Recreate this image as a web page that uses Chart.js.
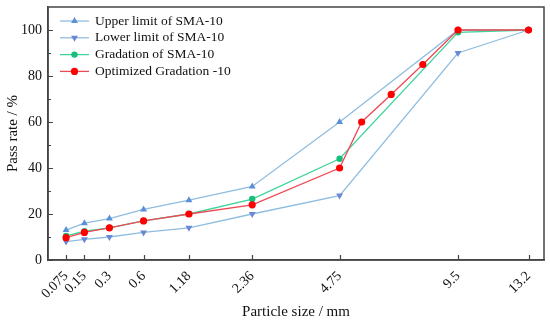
<!DOCTYPE html>
<html lang="en">
<head>
    <meta charset="UTF-8">
    <title>Gradation curves SMA-10</title>
    <script src="https://cdn.jsdelivr.net/npm/chart.js"></script>
    <style>
        body { margin: 0; background: #fff; }
    </style>
</head>
<body>
    <canvas id="gradChart" width="550" height="325"></canvas>

    <script>
        // sieve sizes (mm) and passing percentages
        const sieveSizes = [0.075, 0.15, 0.3, 0.6, 1.18, 2.36, 4.75, 9.5, 13.2];
        const sieveLabels = ['0.075', '0.15', '0.3', '0.6', '1.18', '2.36', '4.75', '9.5', '13.2'];
        const upperLimit = [13, 16, 18, 22, 26, 32, 60, 100, 100];
        const lowerLimit = [8, 9, 10, 12, 14, 20, 28, 90, 100];
        const gradation = [10.5, 12.5, 14, 17, 20, 26.5, 44, 99, 100];
        const optimizedSizes = [0.075, 0.15, 0.3, 0.6, 1.18, 2.36, 4.75, 5.5, 6.6, 7.9, 9.5, 13.2];
        const optimized = [9.7, 12, 14, 17, 20, 24, 40, 60, 72, 85, 100, 100];
        const yTickValues = [0, 10, 20, 30, 40, 50, 60, 70, 80, 90, 100];

        // gradation charts use a power 0.45 abscissa
        const P = 0.45;
        const toX = d => Math.pow(d, P);
        const pts = (sizes, vals) => sizes.map((d, i) => ({ x: toX(d), y: vals[i] }));

        const font = "'Liberation Serif', 'Times New Roman', serif";
        const axisColor = '#444';

        const series = [
            { label: 'Upper limit of SMA-10', data: pts(sieveSizes, upperLimit), borderColor: '#8fbde0', pointBackgroundColor: '#5a90d6', pointStyle: 'triangle', pointRotation: 0, pointRadius: 4, order: 4 },
            { label: 'Lower limit of SMA-10', data: pts(sieveSizes, lowerLimit), borderColor: '#8fbde0', pointBackgroundColor: '#6a88d6', pointStyle: 'triangle', pointRotation: 180, pointRadius: 4, order: 3 },
            { label: 'Gradation of SMA-10', data: pts(sieveSizes, gradation), borderColor: '#3fd49a', pointBackgroundColor: '#16c07a', pointStyle: 'circle', pointRotation: 0, pointRadius: 3.2, order: 2 },
            { label: 'Optimized Gradation -10', data: pts(optimizedSizes, optimized), borderColor: '#ee4a55', pointBackgroundColor: '#ff0000', pointStyle: 'circle', pointRotation: 0, pointRadius: 3.6, order: 1 }
        ];

        const datasets = series.map(s => ({
            label: s.label,
            data: s.data,
            borderColor: s.borderColor,
            backgroundColor: s.pointBackgroundColor,
            pointBackgroundColor: s.pointBackgroundColor,
            pointBorderColor: s.pointBackgroundColor,
            pointBorderWidth: 0,
            pointStyle: s.pointStyle,
            pointRotation: s.pointRotation,
            pointRadius: s.pointRadius,
            borderWidth: 1.3,
            tension: 0,
            order: s.order
        }));

        // frame, inward tick marks and legend inside the plot
        const framePlugin = {
            id: 'frame',
            afterDraw(chart) {
                const { ctx, chartArea: a } = chart;
                const xs = chart.scales.x, ys = chart.scales.y;
                ctx.save();
                ctx.strokeStyle = axisColor;
                ctx.lineWidth = 1.5;
                ctx.strokeRect(a.left, a.top, a.right - a.left, a.bottom - a.top);

                ctx.lineWidth = 1.2;
                ctx.beginPath();
                sieveSizes.forEach(d => {
                    const px = Math.round(xs.getPixelForValue(toX(d))) + 0.5;
                    ctx.moveTo(px, a.bottom);
                    ctx.lineTo(px, a.bottom - 5);
                });
                yTickValues.forEach(v => {
                    const py = Math.round(ys.getPixelForValue(v)) + 0.5;
                    ctx.moveTo(a.left, py);
                    ctx.lineTo(a.left + (v % 20 === 0 ? 5 : 3), py);
                });
                ctx.stroke();

                // legend
                ctx.font = '13.5px ' + font;
                ctx.textBaseline = 'middle';
                series.forEach((s, i) => {
                    const y = a.top + 14 + i * 16.8;
                    const x0 = a.left + 12;
                    ctx.strokeStyle = s.borderColor;
                    ctx.lineWidth = 1.3;
                    ctx.beginPath();
                    ctx.moveTo(x0, y);
                    ctx.lineTo(x0 + 29, y);
                    ctx.stroke();
                    ctx.fillStyle = s.pointBackgroundColor;
                    ctx.strokeStyle = s.pointBackgroundColor;
                    Chart.helpers.drawPoint(ctx, {
                        pointStyle: s.pointStyle,
                        rotation: s.pointRotation,
                        radius: s.pointRadius,
                        borderWidth: 0
                    }, x0 + 14.5, y);
                    ctx.fillStyle = '#111';
                    ctx.fillText(s.label, x0 + 35, y);
                });
                ctx.restore();
            }
        };

        new Chart(document.getElementById('gradChart').getContext('2d'), {
            type: 'line',
            data: { datasets: datasets },
            options: {
                responsive: false,
                animation: false,
                layout: { padding: { top: 7, right: 6, left: 0, bottom: 2 } },
                plugins: {
                    legend: { display: false },
                    tooltip: { enabled: false }
                },
                scales: {
                    x: {
                        type: 'linear',
                        min: 0.199,
                        max: 3.29,
                        afterBuildTicks: scale => {
                            scale.ticks = sieveSizes.map(d => ({ value: toX(d) }));
                        },
                        afterFit: scale => { scale.height = 63; },
                        ticks: {
                            autoSkip: false,
                            maxRotation: 45,
                            minRotation: 45,
                            color: '#111',
                            padding: 8,
                            font: { family: font, size: 14 },
                            callback: (v, i) => sieveLabels[i]
                        },
                        grid: { drawOnChartArea: false, drawTicks: false },
                        border: { display: true, color: axisColor, width: 1.5 },
                        title: {
                            display: true,
                            text: 'Particle size / mm',
                            color: '#111',
                            padding: { top: 0, bottom: 2 },
                            font: { family: font, size: 15 }
                        }
                    },
                    y: {
                        type: 'linear',
                        min: 0,
                        max: 110,
                        afterBuildTicks: scale => {
                            scale.ticks = yTickValues.map(v => ({ value: v }));
                        },
                        afterFit: scale => {
                            scale.width = 48;
                            scale.paddingTop = 0;
                            scale.paddingBottom = 0;
                        },
                        ticks: {
                            color: '#111',
                            padding: 6,
                            font: { family: font, size: 14 },
                            callback: v => (v % 20 === 0 ? v : '')
                        },
                        grid: { drawOnChartArea: false, drawTicks: false },
                        border: { display: true, color: axisColor, width: 1.5 },
                        title: {
                            display: true,
                            text: 'Pass rate / %',
                            color: '#111',
                            padding: { top: 4, bottom: 0 },
                            font: { family: font, size: 15 }
                        }
                    }
                }
            },
            plugins: [framePlugin]
        });
    </script>
</body>
</html>
